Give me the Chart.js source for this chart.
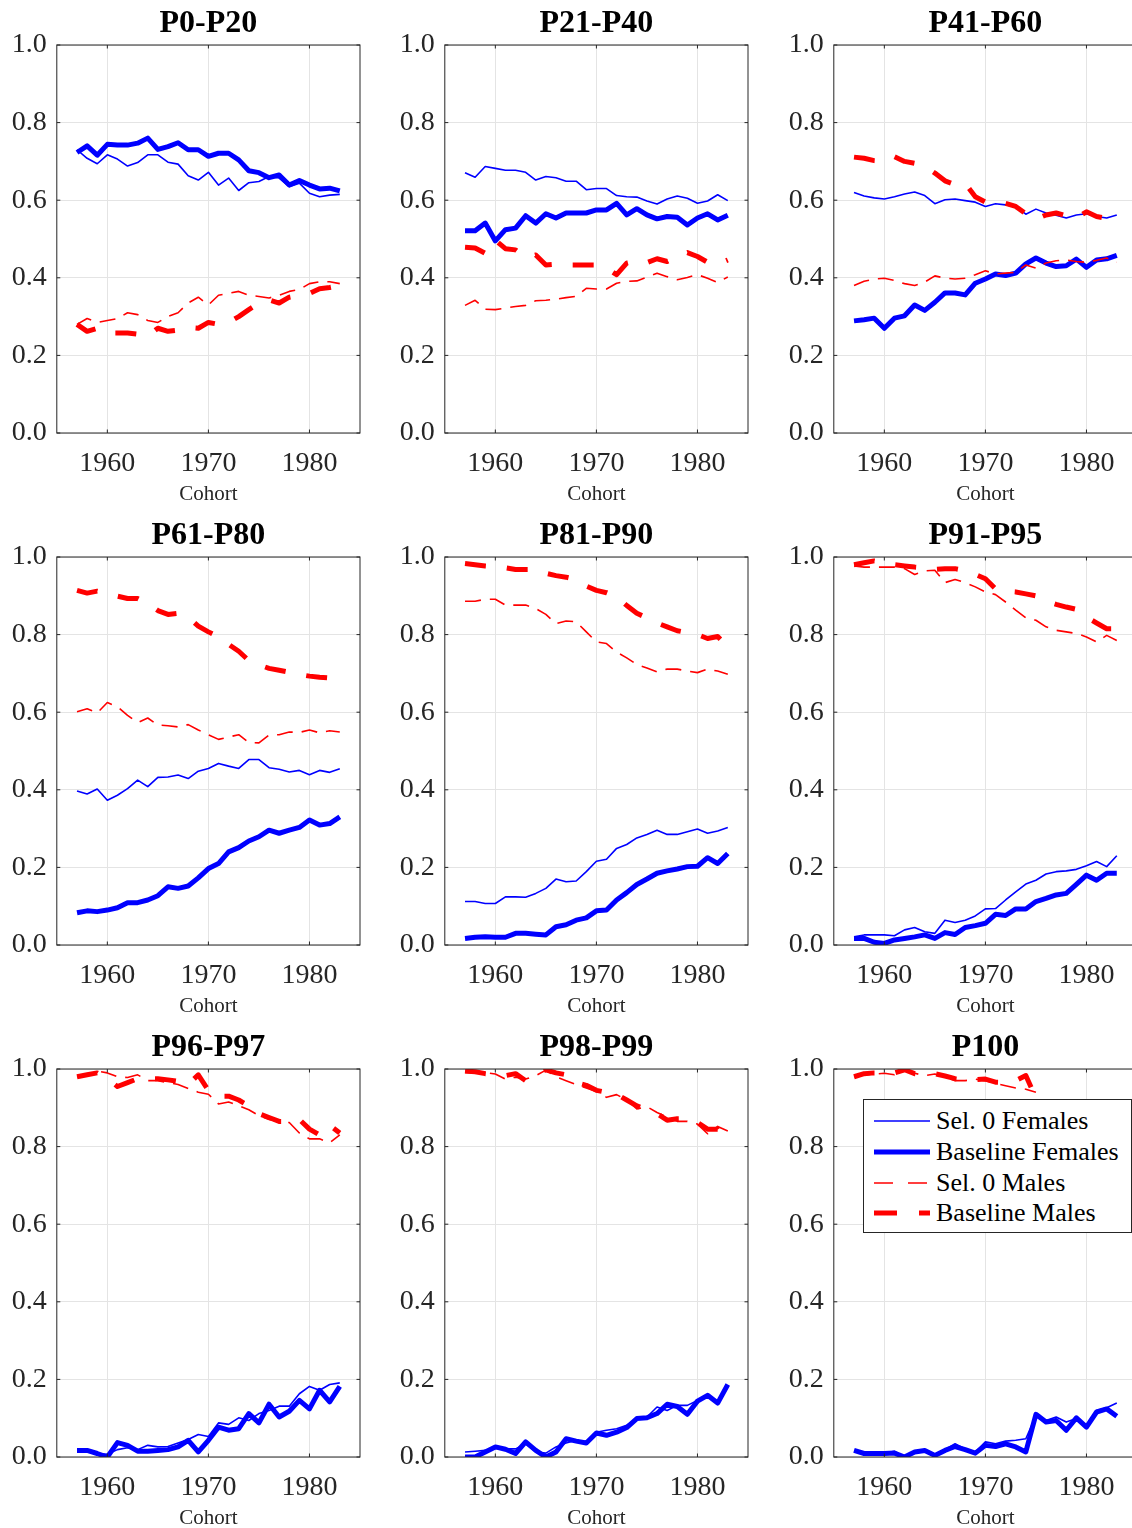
<!DOCTYPE html>
<html>
<head>
<meta charset="utf-8">
<script src="https://cdn.jsdelivr.net/npm/chart.js@4.4.0/dist/chart.umd.min.js"></script>
<style>
  html, body { margin: 0; padding: 0; background: #fff; }
  #page { position: relative; width: 1132px; height: 1528px; overflow: hidden; }
  #page canvas { position: absolute; }
  #legenda {
    position: absolute; left: 863px; top: 1099px; width: 267px; height: 132px;
    border: 1px solid #262626; background: #fff;
    font-family: 'Liberation Serif', 'Times New Roman', serif; font-size: 26px; color: #000;
  }
  #legenda .item { position: absolute; left: 0; height: 30px; width: 100%; }
  #legenda svg { position: absolute; left: 10px; top: 0; }
  #legenda span { position: absolute; left: 72px; top: 0; line-height: 30px; white-space: nowrap; }
</style>
</head>
<body>
<div id="page"></div>
<script>
const cohorts = [1957, 1958, 1959, 1960, 1961, 1962, 1963, 1964, 1965, 1966, 1967, 1968, 1969, 1970,
  1971, 1972, 1973, 1974, 1975, 1976, 1977, 1978, 1979, 1980, 1981, 1982, 1983];

const titulos = ['P0-P20', 'P21-P40', 'P41-P60', 'P61-P80', 'P81-P90', 'P91-P95', 'P96-P97', 'P98-P99', 'P100'];
const rotulos = ['Sel. 0 Females', 'Baseline Females', 'Sel. 0 Males', 'Baseline Males'];

// uma linha por painel, na ordem dos titulos
const selFemales = [
  [0.730, 0.708, 0.694, 0.717, 0.706, 0.688, 0.697, 0.717, 0.717, 0.698, 0.693, 0.663, 0.652, 0.672, 0.639, 0.657, 0.625, 0.645, 0.648, 0.661, 0.657, 0.635, 0.644, 0.618, 0.609, 0.613, 0.615],
  [0.671, 0.659, 0.687, 0.682, 0.677, 0.677, 0.672, 0.652, 0.661, 0.658, 0.649, 0.649, 0.627, 0.630, 0.630, 0.612, 0.609, 0.608, 0.598, 0.590, 0.603, 0.611, 0.605, 0.592, 0.598, 0.614, 0.599],
  [0.620, 0.611, 0.606, 0.603, 0.609, 0.616, 0.621, 0.612, 0.591, 0.601, 0.603, 0.599, 0.595, 0.584, 0.591, 0.588, 0.584, 0.564, 0.577, 0.567, 0.561, 0.554, 0.562, 0.565, 0.558, 0.554, 0.562],
  [0.397, 0.389, 0.402, 0.373, 0.386, 0.403, 0.425, 0.408, 0.432, 0.433, 0.438, 0.429, 0.448, 0.455, 0.468, 0.461, 0.455, 0.478, 0.478, 0.457, 0.453, 0.446, 0.450, 0.439, 0.450, 0.445, 0.454],
  [0.112, 0.112, 0.107, 0.107, 0.124, 0.124, 0.123, 0.133, 0.146, 0.170, 0.163, 0.165, 0.189, 0.216, 0.221, 0.249, 0.259, 0.276, 0.285, 0.296, 0.285, 0.285, 0.292, 0.299, 0.288, 0.294, 0.303],
  [0.021, 0.026, 0.026, 0.026, 0.024, 0.039, 0.045, 0.034, 0.030, 0.064, 0.058, 0.064, 0.075, 0.093, 0.094, 0.116, 0.137, 0.157, 0.167, 0.183, 0.189, 0.191, 0.195, 0.204, 0.215, 0.202, 0.230],
  [0.019, 0.017, 0.009, 0.007, 0.019, 0.024, 0.019, 0.030, 0.026, 0.027, 0.036, 0.045, 0.058, 0.053, 0.088, 0.084, 0.101, 0.094, 0.112, 0.120, 0.131, 0.131, 0.163, 0.182, 0.172, 0.187, 0.191],
  [0.013, 0.015, 0.017, 0.024, 0.021, 0.021, 0.034, 0.013, 0.010, 0.026, 0.036, 0.043, 0.039, 0.064, 0.069, 0.073, 0.082, 0.099, 0.103, 0.129, 0.120, 0.133, 0.133, 0.146, 0.159, 0.142, 0.185],
  [0.017, 0.010, 0.010, 0.010, 0.015, 0.000, 0.010, 0.015, 0.007, 0.019, 0.034, 0.021, 0.013, 0.039, 0.034, 0.041, 0.043, 0.047, 0.107, 0.094, 0.103, 0.090, 0.099, 0.082, 0.120, 0.127, 0.139]
];

const baseFemales = [
  [0.723, 0.740, 0.716, 0.744, 0.742, 0.742, 0.747, 0.760, 0.731, 0.738, 0.748, 0.730, 0.730, 0.713, 0.721, 0.721, 0.704, 0.676, 0.671, 0.658, 0.665, 0.639, 0.651, 0.639, 0.629, 0.631, 0.624],
  [0.521, 0.521, 0.541, 0.495, 0.524, 0.528, 0.560, 0.541, 0.565, 0.554, 0.567, 0.567, 0.567, 0.575, 0.575, 0.592, 0.562, 0.578, 0.562, 0.552, 0.558, 0.556, 0.536, 0.554, 0.565, 0.549, 0.561],
  [0.289, 0.292, 0.296, 0.270, 0.296, 0.302, 0.330, 0.316, 0.337, 0.361, 0.361, 0.356, 0.386, 0.397, 0.410, 0.406, 0.412, 0.436, 0.451, 0.438, 0.429, 0.431, 0.448, 0.427, 0.446, 0.449, 0.458],
  [0.083, 0.088, 0.086, 0.090, 0.096, 0.109, 0.109, 0.116, 0.127, 0.150, 0.146, 0.152, 0.173, 0.197, 0.210, 0.240, 0.251, 0.268, 0.279, 0.296, 0.288, 0.296, 0.303, 0.322, 0.309, 0.313, 0.330],
  [0.017, 0.020, 0.021, 0.020, 0.020, 0.030, 0.030, 0.028, 0.026, 0.047, 0.052, 0.064, 0.070, 0.088, 0.090, 0.116, 0.135, 0.156, 0.170, 0.185, 0.191, 0.196, 0.202, 0.203, 0.225, 0.210, 0.236],
  [0.017, 0.017, 0.007, 0.004, 0.013, 0.017, 0.021, 0.026, 0.017, 0.032, 0.027, 0.045, 0.050, 0.056, 0.079, 0.076, 0.093, 0.093, 0.112, 0.120, 0.129, 0.133, 0.156, 0.180, 0.167, 0.185, 0.185],
  [0.017, 0.017, 0.009, 0.000, 0.037, 0.030, 0.015, 0.015, 0.017, 0.019, 0.026, 0.043, 0.013, 0.043, 0.077, 0.069, 0.073, 0.112, 0.088, 0.136, 0.103, 0.118, 0.146, 0.124, 0.172, 0.142, 0.182],
  [0.000, 0.000, 0.013, 0.026, 0.020, 0.009, 0.039, 0.017, 0.000, 0.013, 0.047, 0.041, 0.036, 0.062, 0.056, 0.064, 0.076, 0.099, 0.101, 0.112, 0.136, 0.130, 0.110, 0.144, 0.159, 0.139, 0.187],
  [0.017, 0.009, 0.009, 0.009, 0.010, 0.000, 0.013, 0.017, 0.004, 0.017, 0.027, 0.019, 0.010, 0.030, 0.027, 0.034, 0.026, 0.013, 0.110, 0.090, 0.094, 0.069, 0.101, 0.077, 0.116, 0.124, 0.105]
];

const selMales = [
  [0.280, 0.295, 0.285, 0.290, 0.295, 0.310, 0.305, 0.290, 0.285, 0.300, 0.310, 0.335, 0.350, 0.330, 0.355, 0.360, 0.365, 0.355, 0.352, 0.348, 0.355, 0.365, 0.370, 0.385, 0.390, 0.390, 0.385],
  [0.329, 0.342, 0.319, 0.318, 0.322, 0.326, 0.329, 0.341, 0.342, 0.345, 0.349, 0.352, 0.373, 0.371, 0.371, 0.386, 0.391, 0.392, 0.402, 0.412, 0.403, 0.395, 0.401, 0.408, 0.399, 0.388, 0.402],
  [0.380, 0.391, 0.397, 0.399, 0.393, 0.385, 0.380, 0.389, 0.405, 0.399, 0.397, 0.399, 0.408, 0.418, 0.410, 0.412, 0.414, 0.433, 0.425, 0.438, 0.444, 0.446, 0.442, 0.440, 0.445, 0.451, 0.440],
  [0.601, 0.609, 0.598, 0.625, 0.614, 0.592, 0.573, 0.585, 0.567, 0.565, 0.562, 0.568, 0.554, 0.542, 0.530, 0.536, 0.542, 0.522, 0.521, 0.541, 0.542, 0.549, 0.548, 0.554, 0.547, 0.552, 0.549],
  [0.886, 0.886, 0.891, 0.891, 0.876, 0.876, 0.876, 0.867, 0.852, 0.828, 0.835, 0.833, 0.807, 0.781, 0.777, 0.755, 0.740, 0.723, 0.714, 0.704, 0.711, 0.711, 0.706, 0.702, 0.711, 0.706, 0.698],
  [0.977, 0.974, 0.974, 0.974, 0.974, 0.970, 0.955, 0.964, 0.966, 0.934, 0.942, 0.934, 0.923, 0.910, 0.903, 0.884, 0.863, 0.843, 0.837, 0.820, 0.811, 0.807, 0.803, 0.794, 0.781, 0.798, 0.785],
  [0.980, 0.985, 0.995, 0.990, 0.980, 0.978, 0.985, 0.970, 0.970, 0.965, 0.960, 0.950, 0.940, 0.935, 0.910, 0.915, 0.905, 0.895, 0.880, 0.870, 0.865, 0.862, 0.835, 0.820, 0.820, 0.810, 0.830],
  [0.991, 0.989, 0.991, 0.987, 0.974, 0.979, 0.974, 0.983, 0.997, 0.980, 0.970, 0.960, 0.951, 0.942, 0.927, 0.934, 0.920, 0.897, 0.903, 0.888, 0.876, 0.865, 0.865, 0.858, 0.833, 0.852, 0.840],
  [0.980, 0.985, 0.987, 0.989, 0.985, 0.996, 0.989, 0.983, 0.987, 0.979, 0.970, 0.970, 0.974, 0.970, 0.963, 0.957, 0.951, 0.948, 0.940, null, null, null, null, null, null, null, null]
];

const baseMales = [
  [0.280, 0.262, 0.270, 0.258, 0.258, 0.258, 0.255, 0.250, 0.270, 0.262, 0.265, 0.272, 0.270, 0.285, 0.280, 0.285, 0.300, 0.318, 0.335, 0.343, 0.335, 0.350, 0.355, 0.360, 0.372, 0.375, 0.380],
  [0.479, 0.477, 0.463, 0.497, 0.475, 0.472, 0.452, 0.459, 0.433, 0.435, 0.433, 0.433, 0.433, 0.433, 0.425, 0.408, 0.438, 0.445, 0.439, 0.449, 0.442, 0.455, 0.465, 0.455, 0.440, 0.435, 0.446],
  [0.711, 0.708, 0.702, 0.700, 0.712, 0.700, 0.695, 0.687, 0.670, 0.650, 0.640, 0.643, 0.609, 0.595, 0.592, 0.592, 0.584, 0.565, 0.551, 0.562, 0.567, 0.560, 0.554, 0.570, 0.558, 0.553, 0.545],
  [0.914, 0.907, 0.912, 0.905, 0.899, 0.893, 0.893, 0.880, 0.862, 0.852, 0.855, 0.845, 0.822, 0.807, 0.794, 0.775, 0.757, 0.733, 0.722, 0.713, 0.708, 0.703, 0.697, 0.693, 0.690, 0.688, 0.676],
  [0.983, 0.980, 0.977, 0.975, 0.972, 0.968, 0.968, 0.968, 0.958, 0.952, 0.948, 0.942, 0.925, 0.914, 0.908, 0.898, 0.875, 0.855, 0.843, 0.830, 0.820, 0.810, 0.805, 0.800, 0.790, 0.795, 0.768],
  [0.980, 0.985, 0.990, 0.985, 0.980, 0.977, 0.974, 0.972, 0.968, 0.970, 0.970, 0.965, 0.955, 0.944, 0.918, 0.912, 0.910, 0.905, 0.900, 0.886, 0.878, 0.871, 0.865, 0.845, 0.830, 0.815, 0.815],
  [0.980, 0.985, 0.990, 0.975, 0.955, 0.965, 0.975, 0.975, 0.975, 0.972, 0.968, 0.960, 0.985, 0.945, 0.930, 0.930, 0.920, 0.905, 0.885, 0.875, 0.865, 0.865, 0.870, 0.845, 0.830, 0.855, 0.835],
  [0.995, 0.993, 0.988, 0.985, 0.983, 0.988, 0.970, 0.985, 0.998, 0.990, 0.985, 0.965, 0.958, 0.945, 0.940, 0.935, 0.920, 0.905, 0.895, 0.885, 0.868, 0.872, 0.872, 0.862, 0.845, 0.845, 0.810],
  [0.980, 0.988, 0.990, 0.990, 0.990, 0.998, 0.988, 0.985, 0.988, 0.982, 0.975, 0.972, 0.973, 0.974, 0.966, 0.965, 0.970, 0.983, 0.925, null, null, null, null, null, null, null, null]
];

const fonte = "'Liberation Serif', 'Times New Roman', serif";
const azul = '#0000ff';
const vermelho = '#ff0000';
const estilos = [
  { cor: azul, largura: 1.6, traco: [] },
  { cor: azul, largura: 5, traco: [] },
  { cor: vermelho, largura: 1.6, traco: [16, 9] },
  { cor: vermelho, largura: 5, traco: [21, 21] }
];

Chart.defaults.font.family = fonte;

// caixa em volta da area e marcas de tick para dentro (estilo matlab)
const caixa = {
  id: 'caixa',
  afterDatasetsDraw(chart) {
    const { ctx, chartArea: a, scales } = chart;
    const t = 3.5;
    ctx.save();
    ctx.strokeStyle = '#262626';
    ctx.lineWidth = 1;
    ctx.beginPath();
    scales.x.ticks.forEach((tk) => {
      const px = scales.x.getPixelForValue(tk.value);
      ctx.moveTo(px, a.bottom); ctx.lineTo(px, a.bottom - t);
      ctx.moveTo(px, a.top); ctx.lineTo(px, a.top + t);
    });
    scales.y.ticks.forEach((tk) => {
      const py = scales.y.getPixelForValue(tk.value);
      ctx.moveTo(a.left, py); ctx.lineTo(a.left + t, py);
      ctx.moveTo(a.right, py); ctx.lineTo(a.right - t, py);
    });
    ctx.stroke();
    ctx.strokeRect(a.left, a.top, a.right - a.left, a.bottom - a.top);
    ctx.restore();
  }
};

const page = document.getElementById('page');
const colunas = [0, 388, 777];
const linhas = [0, 512, 1024];
const series = [selFemales, baseFemales, selMales, baseMales];

titulos.forEach((titulo, i) => {
  const canvas = document.createElement('canvas');
  canvas.width = 370;
  canvas.height = 507;
  canvas.style.left = colunas[i % 3] + 'px';
  canvas.style.top = linhas[Math.floor(i / 3)] + 'px';
  page.appendChild(canvas);

  const datasets = series.map((s, k) => ({
    label: rotulos[k],
    data: cohorts.map((c, j) => ({ x: c, y: s[i][j] })),
    borderColor: estilos[k].cor,
    borderWidth: estilos[k].largura,
    borderDash: estilos[k].traco,
    borderJoinStyle: 'round',
    pointRadius: 0,
    fill: false,
    tension: 0,
    spanGaps: false,
    order: 4 - k
  }));

  new Chart(canvas, {
    type: 'line',
    data: { datasets },
    plugins: [caixa],
    options: {
      responsive: false,
      animation: false,
      events: [],
      layout: { padding: { left: 0, top: 0, right: 10, bottom: 0 } },
      plugins: {
        legend: { display: false },
        tooltip: { enabled: false },
        title: {
          display: true,
          fullSize: false,
          text: titulo,
          color: '#000',
          font: { family: fonte, size: 32, weight: 'bold' },
          padding: { top: 5, bottom: 1.6 }
        }
      },
      scales: {
        x: {
          type: 'linear',
          min: 1955,
          max: 1985,
          afterBuildTicks: (s) => { s.ticks = [1960, 1970, 1980].map((v) => ({ value: v })); },
          afterFit: (s) => { s.height = 74; },
          grid: { color: '#e4e4e4', drawTicks: false },
          border: { display: false },
          ticks: { color: '#262626', font: { size: 28 }, padding: 14, maxRotation: 0, callback: (v) => String(v) },
          title: { display: true, text: 'Cohort', color: '#262626', font: { size: 21 }, padding: 0 }
        },
        y: {
          min: 0,
          max: 1,
          afterFit: (s) => { s.width = 56.8; },
          grid: { color: '#e4e4e4', drawTicks: false },
          border: { display: false },
          ticks: { stepSize: 0.2, color: '#262626', font: { size: 28 }, padding: 10, callback: (v) => v.toFixed(1) }
        }
      }
    }
  });
});

// legenda dentro do painel P100
const legenda = document.createElement('div');
legenda.id = 'legenda';
rotulos.forEach((r, k) => {
  const e = estilos[k];
  const item = document.createElement('div');
  item.className = 'item';
  item.style.top = (6 + k * 30.8) + 'px';
  item.innerHTML =
    `<svg width="56" height="30"><line x1="0" y1="15" x2="56" y2="15" stroke="${e.cor}" stroke-width="${e.largura}"` +
    (e.traco.length ? ` stroke-dasharray="${k === 2 ? '19 15' : '23 22'}"` : '') +
    `/></svg><span>${r}</span>`;
  legenda.appendChild(item);
});
page.appendChild(legenda);
</script>
</body>
</html>
